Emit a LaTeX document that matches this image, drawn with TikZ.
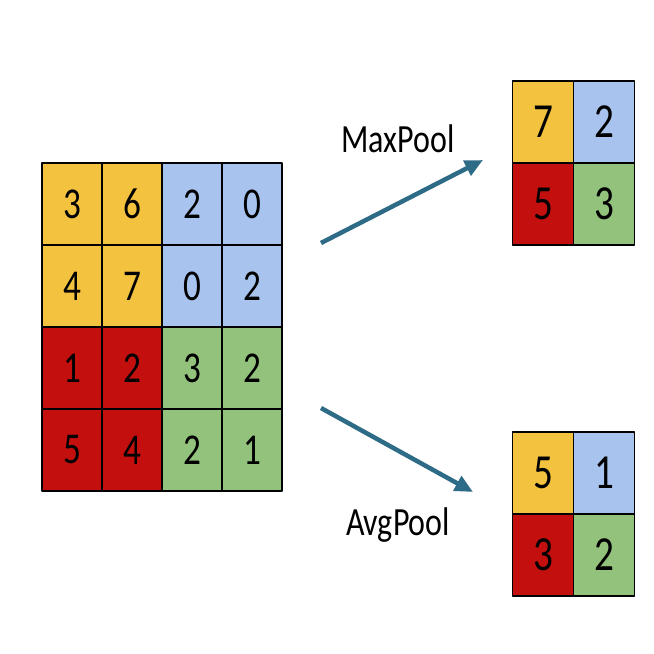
\documentclass[tikz,border=0pt]{standalone}
\usepackage{fontspec}
\setmainfont{Carlito}[FakeStretch=0.8]
\usetikzlibrary{arrows.meta}
\definecolor{cyel}{HTML}{F3C23E}
\definecolor{cblue}{HTML}{A8C4EE}
\definecolor{cred}{HTML}{C40F0F}
\definecolor{cgreen}{HTML}{92C27B}
\definecolor{carrow}{HTML}{2E6B86}
\begin{document}
\begin{tikzpicture}[x=1pt, y=-1pt, line join = round]
	\pgfmathsetmacro\cw{60}
	\pgfmathsetmacro\ch{82}
	\pgfmathsetmacro\ow{61}
	\tikzset{cell/.style={draw, line width=1.8pt, minimum height=\ch pt, inner sep=0pt, outer sep=0pt},
		incell/.style={cell, minimum width=\cw pt, font=\fontsize{44}{44}\selectfont},
		outcell/.style={cell, minimum width=\ow pt, font=\fontsize{49}{49}\selectfont},
		lbl/.style={anchor=base, font=\fontsize{40}{40}\selectfont},
		pool/.style={-{Triangle[length=18pt,width=16pt]}, line width=4.5pt, carrow}}
	\useasboundingbox (0,0) rectangle (654,654);
	% input 4x4
	\foreach \r/\row/\cl/\cr in {0/{3,6,2,0}/cyel/cblue, 1/{4,7,0,2}/cyel/cblue, 2/{1,2,3,2}/cred/cgreen, 3/{5,4,2,1}/cred/cgreen}{
		\foreach \v [count=\c from 0] in \row {
			\pgfmathsetmacro\fc{\c<2 ? "\cl" : "\cr"}
			\node[incell, fill=\fc] (in-\r-\c) at ({42+\cw/2+\c*\cw}, {163+\ch/2+\r*\ch}) {\v};
		}
	}
	% pooled 2x2
	\foreach \name/\y/\a/\b/\c/\d in {max/81/7/2/5/3, avg/432/5/1/3/2}{
		\node[outcell, fill=cyel] (\name-0-0) at ({512.5+\ow/2}, {\y+\ch/2}) {\a};
		\node[outcell, fill=cblue] (\name-0-1) at ({512.5+3*\ow/2}, {\y+\ch/2}) {\b};
		\node[outcell, fill=cred] (\name-1-0) at ({512.5+\ow/2}, {\y+3*\ch/2}) {\c};
		\node[outcell, fill=cgreen] (\name-1-1) at ({512.5+3*\ow/2}, {\y+3*\ch/2}) {\d};
	}
	\coordinate (max-tail) at (321,243);
	\coordinate (max-tip) at (483,160);
	\coordinate (avg-tail) at (321,408);
	\coordinate (avg-tip) at (473,492);
	\draw[pool] (max-tail) -- (max-tip);
	\draw[pool] (avg-tail) -- (avg-tip);
	\node[lbl] (max-lbl) at (398,152) {MaxPool};
	\node[lbl] (avg-lbl) at (398,535) {AvgPool};
\end{tikzpicture}
\end{document}
